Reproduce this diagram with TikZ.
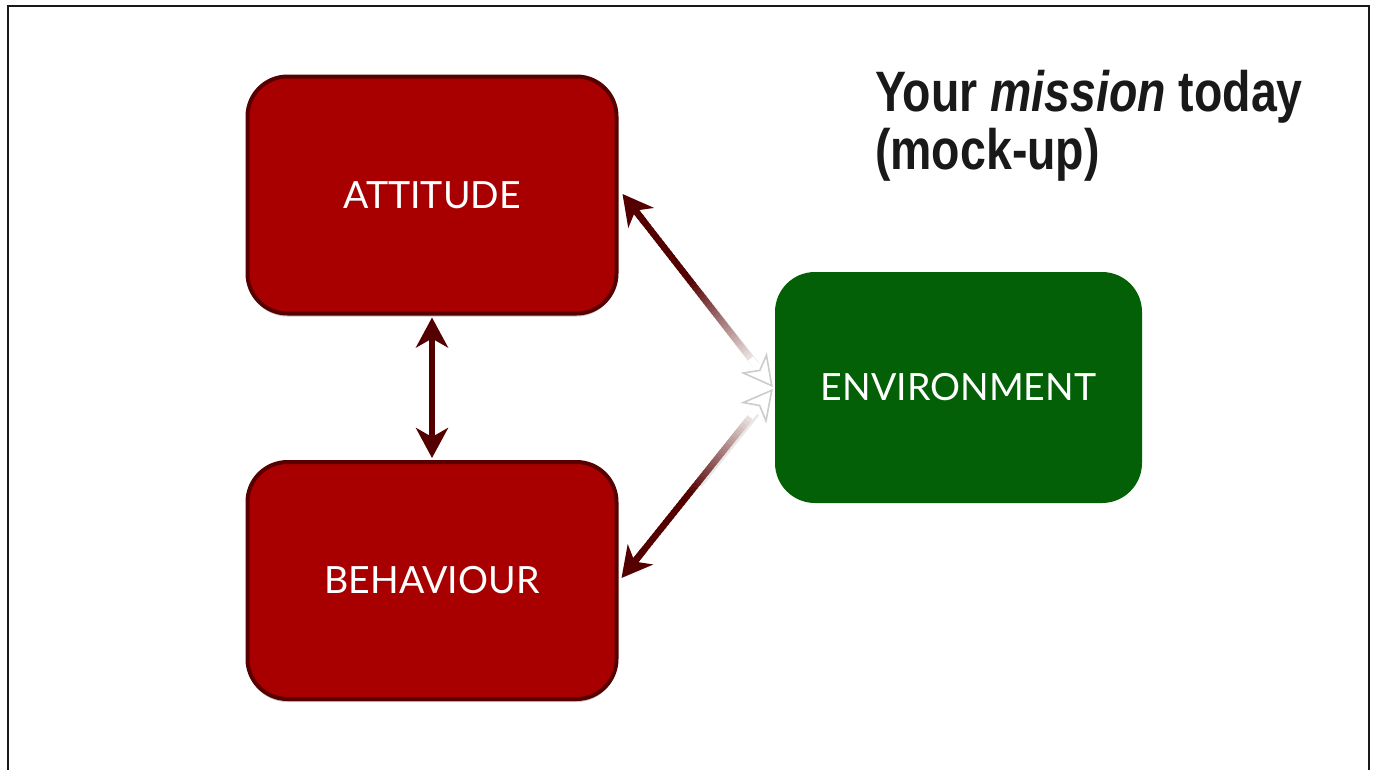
\documentclass[tikz,border=0pt]{standalone}
\usepackage{fontspec}
\setmainfont{Lato}
\newfontfamily\titlefont[FakeStretch=0.815]{Liberation Sans}
\usetikzlibrary{arrows.meta,calc,shadows}
\definecolor{boxred}{RGB}{168,0,0}
\definecolor{boxline}{RGB}{88,0,0}
\definecolor{arrowdk}{RGB}{85,0,0}
\definecolor{boxgreen}{RGB}{3,96,6}
\definecolor{framecol}{RGB}{25,25,25}
\begin{document}
\begin{tikzpicture}[x=1pt,y=-1pt,
  redbox/.style={draw=boxline, line width=4pt, fill=boxred, rounded corners=40pt,
    minimum width=369pt, minimum height=237pt, inner sep=0pt, text=white,
    font=\fontsize{37.5}{44}\selectfont,
    drop shadow={shadow xshift=0pt, shadow yshift=-3pt, fill=gray, opacity=0.45}},
  greenbox/.style={fill=boxgreen, rounded corners=40pt,
    minimum width=367pt, minimum height=231pt, inner sep=0pt, text=white,
    font=\fontsize{37.5}{44}\selectfont},
  dkarrow/.style={arrowdk, line width=6.5pt, {Stealth[length=30pt, width=32pt, inset=9pt]}-{Stealth[length=30pt, width=32pt, inset=9pt]}},
  titletext/.style={anchor=north west, inner sep=0pt, align=left, text=black!90,
    font=\titlefont\bfseries\fontsize{57}{58}\selectfont}
]
\useasboundingbox (0,0) rectangle (1377,769);
\fill[white] (0,0) rectangle (1377,769);
\draw[framecol, line width=2.5pt] (8,775) -- (8,6) -- (1369,6) -- (1369,775);

\node[redbox] (att) at (432,195) {ATTITUDE};
\node[redbox] (beh) at (432,580.5) {BEHAVIOUR};
\node[greenbox] (env) at (958.5,387.5) {ENVIRONMENT};

\node[titletext] (title) at (875,70) {Your \textit{mission} today\\(mock-up)};

% vertical double arrow
\draw[dkarrow] ($(att.south)+(0,2)$) -- ($(beh.north)+(0,-2)$);

% gradient arrows
\coordinate (aU) at ($(att.east)+(4,-1)$);
\coordinate (eU) at ($(env.west)+(-2,-0.5)$);
\coordinate (aL) at ($(beh.east)+(3,-2.5)$);
\coordinate (eL) at ($(env.west)+(-2,1.5)$);

\foreach \A/\B in {aU/eU, aL/eL} {
  \draw[gray!30, line width=7.5pt, opacity=0.6]
    ($(\A)!0.5!(\B)+(1.5,1.5)$) -- ($(\A)!0.88!(\B)+(1.5,1.5)$);
  \foreach \i in {0,...,47} {
    \pgfmathsetmacro\ta{0.08+0.84*\i/48}
    \pgfmathsetmacro\tb{0.08+0.84*(\i+1.4)/48}
    \pgfmathsetmacro\tm{0.08+0.84*(\i+0.5)/48}
    \pgfmathsetmacro\p{max(0,min(100,100*(0.9-\tm)/0.45))}
    \draw[line width=6.5pt, color=arrowdk!\p!white] ($(\A)!\ta!(\B)$) -- ($(\A)!\tb!(\B)$);
  }
  \draw[arrowdk, line width=6.5pt, -{Stealth[length=30pt, width=32pt, inset=9pt]}]
    ($(\A)!36pt!(\B)$) -- (\A);
  \draw[white, line width=6.5pt,
    -{Stealth[length=31pt, width=33pt, inset=9pt, color=gray!40, fill=white, line width=1.6pt]}]
    ($(\B)!36pt!(\A)$) -- (\B);
}
\end{tikzpicture}
\end{document}
